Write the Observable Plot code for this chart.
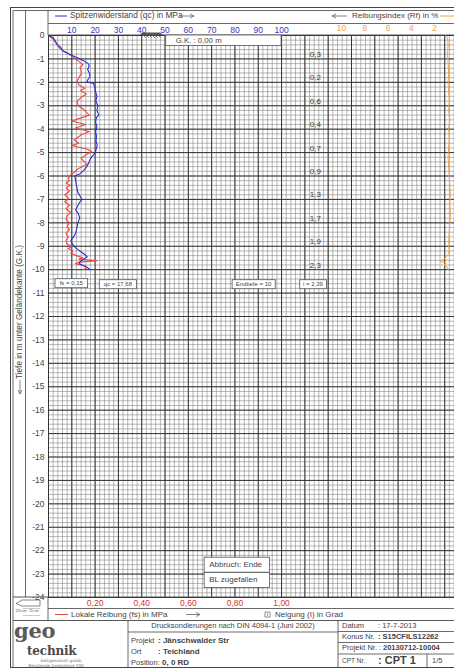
<!DOCTYPE html>
<html><head><meta charset="utf-8">
<script src="https://cdn.jsdelivr.net/npm/d3@7"></script>
<script src="https://cdn.jsdelivr.net/npm/@observablehq/plot@0.6"></script>
<style>body{margin:0;background:#fff;font-family:"Liberation Sans",Arial,sans-serif}</style>
</head><body><div id="chart"></div>
<script>
// ---- data (depth in m below G.K.) ----
const qcDepth = [0,0.1,0.25,0.4,0.5,0.65,0.8,0.95,1.1,1.2,1.3,1.45,1.6,1.75,1.9,1.98,2.05,2.2,2.4,2.6,2.8,3.0,3.2,3.4,3.5,3.7,3.9,4.1,4.3,4.5,4.7,4.9,5.0,5.15,5.3,5.45,5.6,5.75,5.9,6.0,6.15,6.3,6.5,6.7,6.9,7.0,7.15,7.3,7.45,7.6,7.8,8.0,8.2,8.4,8.6,8.75,8.9,9.05,9.2,9.35,9.45,9.55,9.65,9.75,9.85,9.95,10.0];
const qcValues = [0,2,3,3.8,5.2,6,9,12.3,15.5,17,17.5,16.8,17.5,17.8,16.8,16.5,19.4,19.8,20.2,20.8,20.3,21.2,20.8,21.6,20.6,20.2,20.8,20.2,20.6,20.4,20.9,20.3,20.2,18.8,17.8,17.2,16.4,15.2,13.6,11.2,11.6,11.8,12.2,12.6,13.8,14.4,13.2,12.4,11.6,12.8,13.4,12.6,12.2,11.8,10.8,9.6,10.2,11.4,13.4,15.6,16.6,15.2,13.6,13.2,15.6,17.2,17.68];
const fsDepth = [0,0.15,0.3,0.45,0.6,0.8,1.0,1.15,1.25,1.35,1.5,1.65,1.8,1.95,2.1,2.25,2.35,2.5,2.65,2.8,3.0,3.15,3.3,3.4,3.55,3.65,3.8,3.95,4.1,4.25,4.45,4.6,4.7,4.85,4.95,5.1,5.25,5.35,5.5,5.7,5.85,5.95,6.1,6.2,6.3,6.4,6.5,6.65,6.8,6.95,7.1,7.25,7.4,7.55,7.7,7.85,8.0,8.15,8.3,8.45,8.6,8.75,8.9,9.0,9.1,9.2,9.3,9.4,9.5,9.55,9.62,9.68,9.75,9.82,9.9,10.0];
const fsValues = [0,0.02,0.03,0.04,0.055,0.09,0.115,0.135,0.148,0.135,0.14,0.14,0.13,0.122,0.13,0.155,0.138,0.162,0.14,0.122,0.128,0.15,0.165,0.175,0.13,0.1,0.16,0.115,0.175,0.14,0.11,0.13,0.1,0.165,0.185,0.16,0.14,0.15,0.165,0.125,0.11,0.095,0.085,0.09,0.075,0.095,0.075,0.09,0.07,0.085,0.07,0.09,0.075,0.095,0.08,0.075,0.09,0.08,0.09,0.075,0.085,0.075,0.08,0.1,0.085,0.105,0.095,0.12,0.15,0.13,0.21,0.13,0.115,0.15,0.165,0.15];
const rfDepth = [0,0.05,0.1,0.4,0.8,1.2,1.6,2.0,2.4,2.8,3.2,3.6,4.0,4.4,4.8,5.2,5.6,6.0,6.4,6.8,7.2,7.6,8.0,8.4,8.8,9.2,9.4,9.55,9.65,9.72,9.8,9.9,10.0];
const rfValues = [1.1,0.95,0.9,0.85,0.9,0.85,0.8,0.85,0.8,0.75,0.8,0.7,0.8,0.75,0.8,0.85,0.8,0.75,0.7,0.65,0.7,0.65,0.7,0.75,0.8,0.75,0.9,1.2,1.5,1.0,1.2,0.9,0.85];
const inclDepth = [1,2,3,4,5,6,7,8,9,10];
const inclValues = [0.3,0.2,0.6,0.4,0.7,0.9,1.3,1.7,1.9,2.3];
const qcTicks = [10,20,30,40,50,60,70,80,90,100];
const fsTicks = [0.2,0.4,0.6,0.8,1.0];
const rfTicks = [10,8,6,4,2];
const depthTicks = d3.range(0,-25,-1);

// ---- tables ----
const qcData = qcDepth.map((d,i)=>({depth:-d, qc:qcValues[i]}));
const fsData = fsDepth.map((d,i)=>({depth:-d, fs:fsValues[i]}));
const rfData = rfDepth.map((d,i)=>({depth:-d, rf:rfValues[i]}));
const inclData = inclDepth.map((d,i)=>({depth:-d, v:inclValues[i]}));
const fsToX = v => v*100;          // fs axis shares the qc grid (1,00 MPa = 100 MPa)
const rfToX = v => 175.7 - 5*v;    // Rf axis runs right-to-left
const comma = (v,n) => v.toFixed(n).replace(".", ",");

const BLUE="#2b2bd4", RED="#ea4a40", ORANGE="#f2a24a", INK="#444";

const plot = Plot.plot({
  width: 454, height: 669,
  marginLeft: 48, marginRight: 0, marginTop: 35, marginBottom: 72,
  x: {domain: [0, 174.2], label: null},
  y: {domain: [-24, 0], label: null},
  style: {fontFamily: "'Liberation Sans', Arial, sans-serif", fontSize: "8px", background: "white"},
  marks: [
    Plot.ruleX(d3.range(0,175,2), {stroke: "#7a7a7a", strokeWidth: 0.55}),
    Plot.ruleY(d3.range(0,-24.01,-0.2), {stroke: "#7a7a7a", strokeWidth: 0.55}),
    Plot.ruleX(d3.range(0,175,10), {stroke: "#2e2e2e", strokeWidth: 0.95}),
    Plot.ruleY(d3.range(0,-25,-1), {stroke: "#2e2e2e", strokeWidth: 0.95}),
    Plot.axisY(depthTicks, {tickSize: 0, tickPadding: 4, tickFormat: d => String(d), fontSize: 8.5, color: INK, label: null}),
    Plot.axisX(qcTicks, {anchor: "top", tickSize: 0, tickPadding: 3, fontSize: 8.5, color: "#3636c8", label: null}),
    Plot.axisX(fsTicks.map(fsToX), {anchor: "bottom", tickSize: 0, tickPadding: 2, fontSize: 8.5, color: "#e0302a", tickFormat: d => comma(d/100,2), label: null}),
    Plot.text(rfTicks, {x: d => rfToX(d), y: () => 0, dy: -7, text: d => String(d), fill: ORANGE, fontSize: 8.5}),
    Plot.text(inclData, {x: () => 114.5, y: "depth", text: d => comma(d.v,1), lineAnchor: "bottom", dy: -2, fill: INK, fontSize: 8}),
    Plot.line(rfData, {x: d => rfToX(d.rf), y: "depth", stroke: ORANGE, strokeWidth: 1}),
    Plot.line(fsData, {x: d => fsToX(d.fs), y: "depth", stroke: RED, strokeWidth: 1.1}),
    Plot.line(qcData, {x: "qc", y: "depth", stroke: BLUE, strokeWidth: 1.1})
  ]
});
document.getElementById("chart").appendChild(plot);

// ---- sheet frame & annotations ----
const xs = plot.scale("x"), ys = plot.scale("y");
const svg = d3.select(plot);
const g = svg.append("g");
function L(x1,y1,x2,y2,w=0.8,c="#444"){g.append("line").attr("x1",x1).attr("y1",y1).attr("x2",x2).attr("y2",y2).attr("stroke",c).attr("stroke-width",w);}
function T(x,y,s,o={}){const t=g.append("text").attr("x",x).attr("y",y).attr("dominant-baseline","middle")
  .attr("font-size",o.size||8).attr("fill",o.fill||INK).attr("font-weight",o.bold?"bold":"normal")
  .attr("text-anchor",o.anchor||"start").attr("font-family",o.family||"'Liberation Sans', Arial, sans-serif").text(s);
  if(o.rotate) t.attr("transform",`rotate(${o.rotate},${x},${y})`); if(o.ls) t.attr("letter-spacing",o.ls); return t;}
function R(x,y,w,h,o={}){g.append("rect").attr("x",x).attr("y",y).attr("width",w).attr("height",h).attr("fill",o.fill||"white").attr("stroke",o.stroke||"#555").attr("stroke-width",o.sw||0.8);}
function arrowR(x1,x2,y){L(x1,y,x2,y,0.8,"#666");g.append("path").attr("d",`M${x2-4},${y-2}L${x2},${y}L${x2-4},${y+2}`).attr("fill","none").attr("stroke","#666").attr("stroke-width",0.8);}
function arrowL(x1,x2,y){L(x1,y,x2,y,0.8,"#666");g.append("path").attr("d",`M${x2+4},${y-2}L${x2},${y}L${x2+4},${y+2}`).attr("fill","none").attr("stroke","#666").attr("stroke-width",0.8);}

// outer double border
L(10,7.5,454,7.5,1); L(13,10.5,454,10.5,0.8);
L(10.5,7.5,10.5,667.5,1); L(13,10.5,13,667,0.8);
L(10,667.5,454,667.5,1);
// left columns
L(25.5,10.5,25.5,597,0.8);
L(48,10.5,48,35,0.8); L(48,597,48,620.5,0.8);
// header
L(48,23.5,454,23.5,0.8); L(48,35,454,35,0.9);
L(55,16,67,16,1,BLUE); T(70,16,"Spitzenwiderstand (qc) in MPa",{size:8.3}); arrowR(180,194,16);
arrowL(347,332,16); T(352,16,"Reibungsindex (Rf) in %",{size:8}); L(440,16,454,16,1,ORANGE);
// ground symbol & G.K. box
g.append("path").attr("d","M140,35L142,32.5L160,32.5L163,35Z").attr("fill","#555");
for(let i=0;i<6;i++) L(143+i*3,35,146+i*3,38,0.7,"#555");
R(xs.apply(50.5),35,xs.apply(100)-xs.apply(50.5),10.5,{stroke:"#555"});
T(xs.apply(50.5)+10,40.5,"G.K. : 0,00 m",{size:7.8});
// rotated depth label
T(20,312,"Tiefe in m unter Geländekante (G.K.)",{size:8.2,anchor:"middle",rotate:-90});
L(20,380,20,394,0.8,"#666");
g.append("path").attr("d","M18,390L20,394L22,390").attr("fill","none").attr("stroke","#666").attr("stroke-width",0.8);
// result boxes
const yb = ys.apply(-10.6);
R(xs.apply(3),yb-4.5,xs.apply(17)-xs.apply(3),9); T(xs.apply(10),yb,"fs = 0,15",{size:6,anchor:"middle"});
R(xs.apply(22),yb-3.5,xs.apply(38)-xs.apply(22),9); T(xs.apply(30),yb+1,"qc = 17,68",{size:6,anchor:"middle"});
R(xs.apply(79),yb-3.5,xs.apply(97.5)-xs.apply(79),9); T(xs.apply(88.2),yb+1,"Endtiefe = 10",{size:6,anchor:"middle"});
R(xs.apply(108),yb-3.5,xs.apply(119.5)-xs.apply(108),9); T(xs.apply(113.7),yb+1,"i = 2,39",{size:6,anchor:"middle"});
R(xs.apply(67),ys.apply(-22.3),xs.apply(95)-xs.apply(67),15); T(xs.apply(67)+5,ys.apply(-22.3)+7.5,"Abbruch: Ende",{size:8});
R(xs.apply(67),ys.apply(-22.95),xs.apply(95)-xs.apply(67),15); T(xs.apply(67)+5,ys.apply(-22.95)+7.5,"BL zugefallen",{size:8});
// bottom legend rows
L(13,597,454,597,0.9); L(48,608.5,454,608.5,0.8); L(13,620.5,454,620.5,0.9);
L(55,614.5,68,614.5,1,RED); T(71,614.5,"Lokale Reibung (fs) in MPa",{size:8}); arrowR(186,200,614.5);
R(265,612,5,5,{stroke:"#666",sw:0.7}); L(267.5,613,267.5,616,0.6,"#666");
T(275,614.5,"Neigung (I) in Grad",{size:8});
// cone icon with its area label
g.append("path").attr("d","M16,603.5L22,600L40,600L40,606L22,606Z").attr("fill","none").attr("stroke","#555").attr("stroke-width",0.7);
L(23,608.5,40,608.5,0.4,"#777"); L(23,615.5,40,615.5,0.4,"#777");
T(15.5,611.5,"220 cm²  15 cm²",{size:3.3});
// title block
L(128,620.5,128,667,0.8); L(128,632,338,632,0.8); L(338,620.5,338,667,0.8);
L(338,631.5,454,631.5,0.8); L(338,642.5,454,642.5,0.8); L(338,654,454,654,0.8); L(427,654,427,667,0.8);
T(233,626.5,"Drucksondierungen nach DIN 4094-1 (Juni 2002)",{size:7.5,anchor:"middle"});
T(131,641,"Projekt",{size:7.5}); T(158,641,": Jänschwalder Str",{size:8,bold:true});
T(131,652,"Ort",{size:7.5}); T(158,652,": Teichland",{size:8,bold:true});
T(131,663,"Position:",{size:7.5}); T(162,663,"0, 0 RD",{size:8,bold:true});
T(342,626.5,"Datum",{size:7.5}); T(378,626.5,": 17-7-2013",{size:7.5});
T(342,637,"Konus Nr.",{size:7.5}); T(378,637,": S15CFILS12262",{size:7.5,bold:true});
T(342,648,"Projekt Nr. :",{size:7.5}); T(383,648,"20130712-10004",{size:7.5,bold:true});
T(342,661,"CPT Nr.",{size:6.5}); T(378,661,": CPT 1",{size:11,bold:true}); T(432,661,"1/5",{size:7.5});
// logo
T(14,632,"geo",{size:21,bold:true,fill:"#5a5a5a",family:"'DejaVu Serif', serif",ls:-0.3});
T(27,651.5,"technik",{size:12,bold:true,fill:"#4a4a4a",family:"'DejaVu Serif', serif",ls:-0.2});
T(61,661,"heiligenstadt gmbh",{size:4.2,fill:"#777",anchor:"middle",family:"'DejaVu Serif', serif"});
T(56,665.8,"Beratende Ingenieure VBI",{size:4.2,fill:"#777",anchor:"middle",family:"'DejaVu Serif', serif"});
</script></body></html>
